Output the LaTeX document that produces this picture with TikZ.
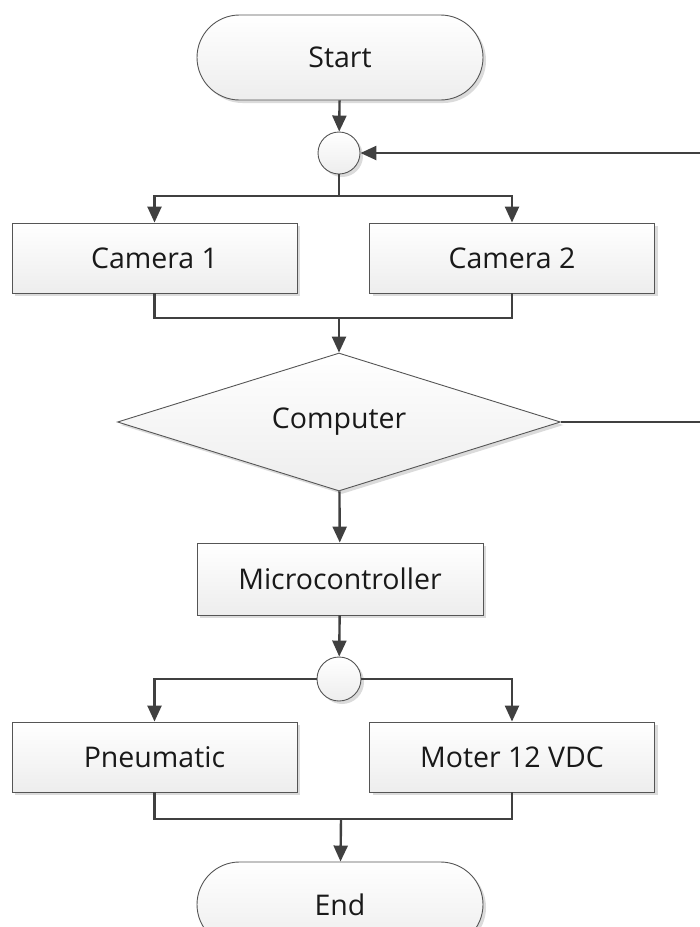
\documentclass[tikz,border=0pt]{standalone}
\usepackage{fontspec}
\setmainfont{Open Sans}
\usetikzlibrary{shapes.misc,shapes.geometric,arrows.meta,shadows}
\definecolor{lnc}{HTML}{404040}
\definecolor{bdc}{HTML}{555555}
\tikzset{
  base/.style={draw=bdc, line width=0.9pt, top color=white, bottom color=black!7,
    drop shadow={shadow xshift=3pt, shadow yshift=-3pt, fill=black!14, opacity=1},
    font=\fontsize{28.5}{32}\selectfont, text=black!90, inner sep=0pt},
  term/.style={base, rounded rectangle, minimum width=286pt, minimum height=85pt},
  proc/.style={base, rectangle, minimum width=285pt, minimum height=70pt},
  junc/.style={base, circle, minimum size=42pt},
  deci/.style={base, diamond, aspect=3.2, minimum width=443pt, minimum height=138pt},
  conn/.style={draw=lnc, line width=2.4pt},
  arr/.style={conn, -{Triangle[length=16pt,width=14pt]}}
}
\begin{document}
\begin{tikzpicture}[x=1pt,y=-1pt]
\useasboundingbox (0,0) rectangle (700,927);
\node[term] (start) at (340,57.5) {Start};
\node[junc] (j1) at (339,153) {};
\node[proc] (cam1) at (154.5,258) {Camera 1};
\node[proc] (cam2) at (512,258) {Camera 2};
\node[deci] (comp) at (339,422) {Computer};
\node[proc, minimum width=286pt, minimum height=72pt] (mc) at (340,579) {Microcontroller};
\node[junc, minimum size=44pt] (j2) at (339,679) {};
\node[proc] (pn) at (154.5,757) {Pneumatic};
\node[proc] (mo) at (512,757) {Moter 12 VDC};
\node[term] (end) at (340,904.5) {End};
\coordinate (s1) at (339,196);
\coordinate (m1) at (339,318);
\coordinate (m2) at (341,819);
\coordinate (fa) at (704,422);
\coordinate (fb) at (704,153);
\draw[arr] (start) -- (j1);
\draw[conn] (j1) -- (s1);
\draw[arr] (s1) -| (cam1);
\draw[arr] (s1) -| (cam2);
\draw[conn] (cam1) |- (m1);
\draw[conn] (cam2) |- (m1);
\draw[arr] (m1) -- (comp);
\draw[arr] (comp.east) -- (fa) -- (fb) -- (j1);
\draw[arr] (comp) -- (mc);
\draw[arr] (mc) -- (j2);
\draw[arr] (j2) -| (pn);
\draw[arr] (j2) -| (mo);
\draw[conn] (pn) |- (m2);
\draw[conn] (mo) |- (m2);
\draw[arr] (m2) -- (end);
\end{tikzpicture}
\end{document}
